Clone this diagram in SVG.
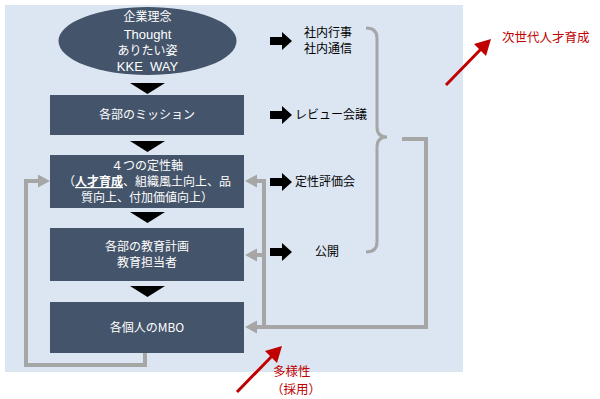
<svg xmlns="http://www.w3.org/2000/svg" width="600" height="399" viewBox="0 0 600 399">
<defs>
<style>
.box{fill:#44546a;}
.wt{fill:#fff;font-family:"Noto Sans CJK JP","Liberation Sans",sans-serif;font-size:12px;text-anchor:middle;}
.lt{fill:#fff;font-family:"Liberation Sans","Noto Sans CJK JP",sans-serif;font-size:13px;text-anchor:middle;}
.bt{fill:#000;font-family:"Noto Sans CJK JP","Liberation Sans",sans-serif;font-size:12px;}
.rt{fill:#c00000;font-family:"Noto Sans CJK JP","Liberation Sans",sans-serif;font-size:12.5px;}
.gl{fill:none;stroke:#a6a6a6;stroke-width:4;}
.tri{fill:#000;}
</style>
<path id="barrow" d="M0,-4 H12 V-9 L22,0 L12,9 V4 H0 Z" fill="#000"/>
<path id="ghead" d="M0,0 L12,-6.5 L12,6.5 Z" fill="#a6a6a6"/>
</defs>
<rect x="5" y="5" width="458" height="367" fill="#dce6f2"/>

<g id="connectors">
<polygon class="tri" points="130,83 165,83 147.5,94"/>
<polygon class="tri" points="130,141 165,141 147.5,152"/>
<polygon class="tri" points="130,212 165,212 147.5,223"/>
<polygon class="tri" points="130,286 165,286 147.5,297"/>
<polyline class="gl" points="145,353 145,365 26,365 26,181 40,181"/>
<use href="#ghead" transform="translate(50,181) rotate(180)"/>
<polyline class="gl" points="256,181 264,181 264,327"/>
<use href="#ghead" x="245" y="181"/>
<line class="gl" x1="256" y1="255" x2="264" y2="255"/>
<use href="#ghead" x="245" y="255"/>
<polyline class="gl" points="402,139 426,139 426,327 256,327"/>
<use href="#ghead" x="245" y="327"/>
<path d="M366,28 Q377,28 377,38 V127 Q377,137 387,137 Q377,137 377,147 V242 Q377,252 366,252" fill="none" stroke="#a6a6a6" stroke-width="3"/>
<use href="#barrow" x="270" y="41"/>
<use href="#barrow" x="270" y="115"/>
<use href="#barrow" x="270" y="182"/>
<use href="#barrow" x="270" y="252"/>
<line x1="446" y1="85" x2="482" y2="48" stroke="#c00000" stroke-width="3"/>
<polygon points="491,39 474,44 486,56" fill="#c00000"/>
<line x1="237" y1="392" x2="273" y2="355" stroke="#c00000" stroke-width="3"/>
<polygon points="282,346 265,351 277,363" fill="#c00000"/>
</g>

<g id="n_ellipse">
<ellipse cx="147.5" cy="41" rx="89" ry="34" class="box"/>
<text class="wt" x="147.5" y="21">企業理念</text>
<text class="lt" x="147.5" y="39">Thought</text>
<text class="wt" x="147.5" y="55">ありたい姿</text>
<text class="lt" x="147.5" y="71">KKE&#160; WAY</text>
</g>
<g id="n_mission">
<rect x="50" y="95" width="194" height="40" class="box"/>
<text class="wt" x="147" y="119">各部のミッション</text>
</g>
<g id="n_axes">
<rect x="50" y="155" width="194" height="53" class="box"/>
<text class="wt" x="147" y="170">４つの定性軸</text>
<text class="wt" x="147" y="186">（<tspan font-weight="bold" text-decoration="underline">人才育成</tspan>、組織風土向上、品</text>
<text class="wt" x="147" y="202">質向上、付加価値向上）</text>
</g>
<g id="n_plan">
<rect x="50" y="228" width="194" height="53" class="box"/>
<text class="wt" x="147" y="251">各部の教育計画</text>
<text class="wt" x="147" y="267">教育担当者</text>
</g>
<g id="n_mbo">
<rect x="50" y="302" width="194" height="51" class="box"/>
<text class="wt" x="147" y="332">各個人のMBO</text>
</g>

<g id="n_events">
<text class="bt" x="328" y="37" text-anchor="middle">社内行事</text>
<text class="bt" x="328" y="53" text-anchor="middle">社内通信</text>
</g>
<g id="n_review"><text class="bt" x="295" y="119">レビュー会議</text></g>
<g id="n_eval"><text class="bt" x="295" y="186">定性評価会</text></g>
<g id="n_open"><text class="bt" x="315" y="256">公開</text></g>
<g id="n_nextgen"><text class="rt" x="502" y="42">次世代人才育成</text></g>
<g id="n_diversity">
<text class="rt" x="273" y="376">多様性</text>
<text class="rt" x="271" y="394">（採用）</text>
</g>
</svg>
